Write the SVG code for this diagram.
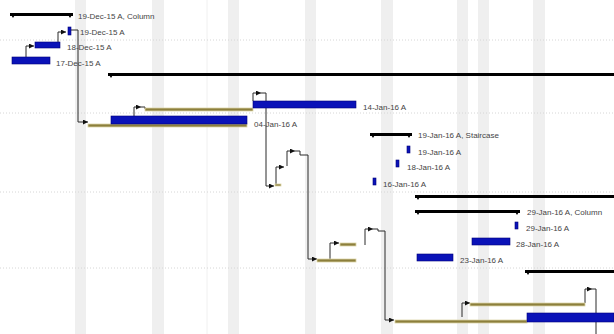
<svg xmlns="http://www.w3.org/2000/svg" width="614" height="334" viewBox="0 0 614 334">
<defs>
<style>
.band{fill:#efefef}
.grid{stroke:#d6d6d6;stroke-width:1;stroke-dasharray:1 2;fill:none}
.sum{fill:#000}
.act{fill:#0a12b8;stroke:#00007a;stroke-width:0.6}
.base{fill:#8c7f3c;stroke:#ddd5a8;stroke-width:0.8}
.lbl{font-family:"Liberation Sans",Arial,sans-serif;font-size:8px;fill:#444444}
.con{fill:none;stroke:#2a2a2a;stroke-width:1}
</style>
<marker id="ar" viewBox="0 0 6 6" refX="6" refY="3" markerWidth="5" markerHeight="5" markerUnits="userSpaceOnUse" orient="auto">
<path d="M0,0 L6,3 L0,6 Z" fill="#111"/>
</marker>
</defs>
<rect width="614" height="334" fill="#ffffff"/>
<g id="background">
<rect class="band" x="75" y="0" width="11" height="334"/>
<rect class="band" x="152" y="0" width="12" height="334"/>
<rect class="band" x="228" y="0" width="11" height="334"/>
<rect class="band" x="305" y="0" width="11" height="334"/>
<rect class="band" x="381" y="0" width="12" height="334"/>
<rect class="band" x="457" y="0" width="11" height="334"/>
<rect class="band" x="478" y="0" width="11" height="334"/>
<rect class="band" x="533" y="0" width="12" height="334"/>
<line x1="207" y1="0" x2="207" y2="334" stroke="#f0f0f0" stroke-width="1"/>
<line class="grid" x1="0" y1="40" x2="614" y2="40"/>
<line class="grid" x1="0" y1="113" x2="614" y2="113"/>
<line class="grid" x1="0" y1="192" x2="614" y2="192"/>
<line class="grid" x1="0" y1="268" x2="614" y2="268"/>
</g>
<g id="connectors">
<path class="con" d="M26,59 V46 H34" marker-end="url(#ar)"/>
<path class="con" d="M58,43 V32 H66" marker-end="url(#ar)"/>
<path class="con" d="M70,30 H78 V122 H88" marker-end="url(#ar)"/>
<path class="con" d="M134,117 V107 H141" marker-end="url(#ar)"/>
<path class="con" d="M141,107 H145 V109"/>
<path class="con" d="M253,101 V93 H261" marker-end="url(#ar)"/>
<path class="con" d="M261,93 H266 V186 H274" marker-end="url(#ar)"/>
<path class="con" d="M276,184 V167 H284" marker-end="url(#ar)"/>
<path class="con" d="M287,166 V151 H295" marker-end="url(#ar)"/>
<path class="con" d="M295,151 H300 V155 H308 V259 H317" marker-end="url(#ar)"/>
<path class="con" d="M330,259 V243 H339" marker-end="url(#ar)"/>
<path class="con" d="M365,245 V229 H373" marker-end="url(#ar)"/>
<path class="con" d="M373,229 H378 V231 H385 V320 H394" marker-end="url(#ar)"/>
<path class="con" d="M462,317 V303 H470" marker-end="url(#ar)"/>
<path class="con" d="M585,303 V289 H592" marker-end="url(#ar)"/>
<path class="con" d="M592,289 H596 V334"/>
</g>
<g id="sum-column-dec">
<rect class="sum" x="10" y="13" width="63" height="3"/>
<path class="sum" d="M10,13 h6 l-3,5 Z M67,13 h6 l-3,5 Z"/>
<text class="lbl" x="78" y="19">19-Dec-15 A, Column</text>
</g>
<g id="task-19dec">
<rect class="act" x="68" y="27" width="3" height="8"/>
<text class="lbl" x="80" y="35">19-Dec-15 A</text>
</g>
<g id="task-18dec">
<rect class="act" x="35" y="42" width="25" height="6"/>
<text class="lbl" x="67" y="50">18-Dec-15 A</text>
</g>
<g id="task-17dec">
<rect class="act" x="12" y="57" width="38" height="7"/>
<text class="lbl" x="56" y="66">17-Dec-15 A</text>
</g>
<g id="sum-main">
<rect class="sum" x="108" y="73" width="506" height="3"/>
<path class="sum" d="M108,73 h6 l-3,5 Z"/>
</g>
<g id="task-04jan">
<rect class="base" x="88" y="124" width="159" height="3"/>
<rect class="act" x="111" y="116" width="136" height="8"/>
<text class="lbl" x="254" y="127">04-Jan-16 A</text>
</g>
<g id="task-14jan">
<rect class="base" x="145" y="108" width="108" height="3"/>
<rect class="act" x="253" y="101" width="103" height="7"/>
<text class="lbl" x="363" y="110">14-Jan-16 A</text>
</g>
<g id="task-small-a">
<rect class="base" x="275" y="184" width="6" height="2"/>
</g>
<g id="task-small-b">
<rect class="base" x="317" y="259" width="39" height="3"/>
</g>
<g id="task-small-c">
<rect class="base" x="340" y="243" width="16" height="3"/>
</g>
<g id="sum-staircase">
<rect class="sum" x="370" y="133" width="42" height="3"/>
<path class="sum" d="M370,133 h6 l-3,5 Z M406,133 h6 l-3,5 Z"/>
<text class="lbl" x="418" y="138">19-Jan-16 A, Staircase</text>
</g>
<g id="task-19jan">
<rect class="act" x="407" y="146" width="3" height="7"/>
<text class="lbl" x="418" y="155">19-Jan-16 A</text>
</g>
<g id="task-18jan">
<rect class="act" x="396" y="160" width="3" height="7"/>
<text class="lbl" x="407" y="170">18-Jan-16 A</text>
</g>
<g id="task-16jan">
<rect class="act" x="373" y="178" width="3" height="7"/>
<text class="lbl" x="383" y="187">16-Jan-16 A</text>
</g>
<g id="sum-long">
<rect class="sum" x="415" y="195" width="199" height="3"/>
<path class="sum" d="M415,195 h6 l-3,5 Z"/>
</g>
<g id="sum-column-jan">
<rect class="sum" x="415" y="210" width="105" height="3"/>
<path class="sum" d="M415,210 h6 l-3,5 Z M514,210 h6 l-3,5 Z"/>
<text class="lbl" x="527" y="215">29-Jan-16 A, Column</text>
</g>
<g id="task-29jan">
<rect class="act" x="515" y="222" width="3" height="7"/>
<text class="lbl" x="526" y="231">29-Jan-16 A</text>
</g>
<g id="task-28jan">
<rect class="act" x="472" y="238" width="38" height="7"/>
<text class="lbl" x="516" y="247">28-Jan-16 A</text>
</g>
<g id="task-23jan">
<rect class="act" x="417" y="254" width="36" height="7"/>
<text class="lbl" x="460" y="263">23-Jan-16 A</text>
</g>
<g id="sum-bottom">
<rect class="sum" x="525" y="270" width="89" height="3"/>
<path class="sum" d="M525,270 h6 l-3,5 Z"/>
</g>
<g id="task-bottom-a">
<rect class="base" x="470" y="303" width="115" height="3"/>
</g>
<g id="task-bottom-b">
<rect class="base" x="395" y="320" width="132" height="3"/>
<rect class="act" x="527" y="313" width="87" height="9"/>
</g>
</svg>
